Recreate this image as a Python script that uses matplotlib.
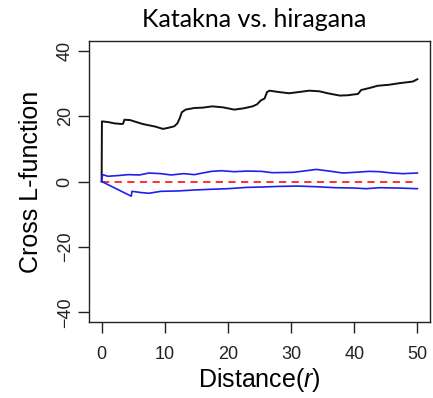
import matplotlib
matplotlib.use("Agg")
import matplotlib.pyplot as plt

plt.rcParams['font.family'] = ['Liberation Sans', 'DejaVu Sans']
plt.rcParams['mathtext.fontset'] = 'custom'
plt.rcParams['mathtext.rm'] = 'Liberation Sans'
plt.rcParams['mathtext.it'] = 'Liberation Sans:italic'

# Observed cross L-function (centred)
obs_r = [0, 0.05, 1, 2, 3.1, 3.4, 3.6, 4.5, 5.5, 6.5, 7.5, 8.5, 9.7, 10.5, 11.5,
         12, 12.4, 12.7, 13.3, 14.7, 16, 17.5, 19.2, 21.0, 22.5, 23.9, 24.6, 25.2,
         25.8, 26.2, 26.6, 28, 29.7, 31.3, 32.9, 34.5, 35.8, 37.7, 39, 40.6, 41.1,
         42.4, 43.7, 45.5, 47.2, 48.5, 49.3, 50]
obs_L = [0, 18.4, 18.2, 17.8, 17.6, 17.7, 18.9, 18.8, 18.2, 17.6, 17.2, 16.8, 16.1,
         16.4, 16.9, 17.8, 19.5, 21.2, 22.0, 22.5, 22.6, 23.0, 22.7, 22.0, 22.4, 23.0,
         23.6, 24.8, 25.4, 27.4, 27.8, 27.4, 27.0, 27.4, 27.8, 27.6, 27.0, 26.3, 26.4,
         26.8, 28.0, 28.6, 29.3, 29.6, 30.1, 30.4, 30.6, 31.3]

# Upper simulation envelope
hi_r = [0, 0.15, 1, 2.5, 4.2, 6, 7.5, 9.4, 11, 13, 14.7, 16, 17.4, 19, 21, 23,
        25.3, 27, 30.3, 32, 34, 36, 38.2, 40, 42.4, 44, 46, 47.7, 50]
hi_L = [0, 2.1, 1.6, 1.8, 2.1, 2.0, 2.6, 2.4, 2.0, 2.4, 2.1, 2.6, 3.1, 3.3, 3.0, 3.2,
        3.1, 2.7, 2.8, 3.2, 3.7, 3.2, 2.6, 2.8, 3.1, 3.0, 2.6, 2.4, 2.6]

# Lower simulation envelope
lo_r = [0, 4.7, 4.8, 6.3, 7.5, 9.4, 12, 14.7, 17, 20, 23, 25.3, 28, 31, 34, 37,
        40, 41.9, 44, 47, 50]
lo_L = [0, -4.5, -3.0, -3.4, -3.6, -3.0, -2.9, -2.6, -2.4, -2.2, -1.8, -1.7, -1.5,
        -1.4, -1.6, -1.9, -2.0, -2.2, -1.9, -2.0, -2.2]

# Theoretical value under independence
theo_r = [0, 50]
theo_L = [0, 0]

x_ticks = [0, 10, 20, 30, 40, 50]
y_ticks = [-40, -20, 0, 20, 40]

fig = plt.figure(figsize=(4.33, 3.98), dpi=100)
ax = fig.add_axes([89 / 433, 1 - 322 / 398, (430 - 89) / 433, (322 - 41) / 398])

ax.plot(obs_r, obs_L, color='#111111', lw=1.4)
ax.plot(theo_r, theo_L, color='#ff2020', lw=1.3, ls=(0, (4, 3)))
ax.plot(hi_r, hi_L, color='#2020ee', lw=1.2)
ax.plot(lo_r, lo_L, color='#2020ee', lw=1.2)

ax.set_xlim(-2, 52)
ax.set_ylim(-43, 43)
ax.set_xticks(x_ticks)
ax.set_yticks(y_ticks)
ax.tick_params(axis='both', direction='out', length=8, width=1, labelsize=13,
               colors='#222222')
ax.tick_params(axis='x', pad=9)
ax.tick_params(axis='y', pad=3)
for lab in ax.get_yticklabels():
    lab.set_rotation(90)
    lab.set_va('center')
for s in ax.spines.values():
    s.set_linewidth(1.0)
    s.set_color('#222222')

ax.set_xlabel('Distance($\\it{r}$)', fontsize=18, labelpad=2.5)
ax.set_ylabel('Cross L-function', fontsize=18, labelpad=10)
fig.text(0.587, 0.95, 'Katakna vs. hiragana', fontsize=18, family=['Lato', 'DejaVu Sans'],
         ha='center', va='center')

fig.savefig('out.png', dpi=100)
